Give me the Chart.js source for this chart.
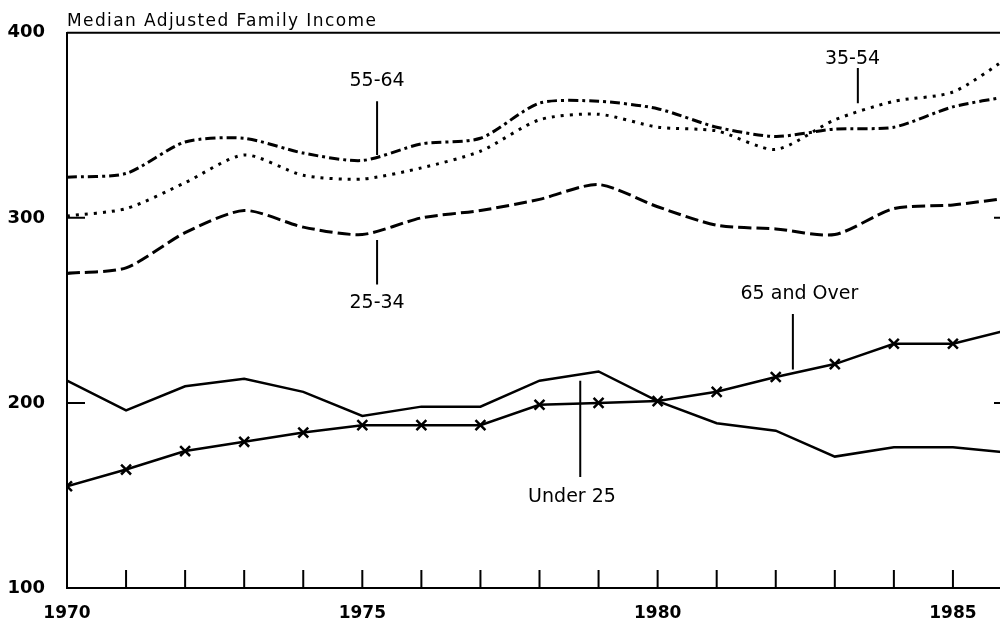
<!DOCTYPE html>
<html>
<head>
<meta charset="utf-8">
<title>Median Adjusted Family Income</title>
<script src="https://cdn.jsdelivr.net/npm/chart.js@4.4.1/dist/chart.umd.min.js"></script>
<style>
  html, body { margin: 0; padding: 0; background: #fff; overflow: hidden; }
  #wrap { width: 1029px; height: 625px; }
</style>
</head>
<body>
<div id="wrap"><canvas id="chart" width="1029" height="625"></canvas></div>
<script>
// Chart data
const years = [1970, 1971, 1972, 1973, 1974, 1975, 1976, 1977, 1978, 1979, 1980, 1981, 1982, 1983, 1984, 1985, 1986];
const under25 = [212, 196, 209, 213, 206, 193, 198, 198, 212, 217, 201, 189, 185, 171, 176, 176, 173];
const age25to34 = [270, 273, 292, 304, 295, 291, 300, 304, 310, 318, 306, 296, 294, 291, 305, 307, 311];
const age35to54 = [301, 305, 319, 334, 323, 321, 327, 336, 353, 356, 349, 347, 337, 353, 363, 368, 388];
const age55to64 = [322, 324, 341, 343, 335, 331, 340, 343, 362, 363, 359, 349, 344, 348, 349, 360, 366];
const age65plus = [155, 164, 174, 179, 184, 188, 188, 188, 199, 200, 201, 206, 214, 221, 232, 232, 240];
const yTicks = [100, 200, 300, 400];
const xLabelYears = [1970, 1975, 1980, 1985];
const title = 'Median Adjusted Family Income';

// series labels with leader lines, in data units
const callouts = [
    { text: '55-64', x: 1975.25, textY: 374, from: 363, to: 334 },
    { text: '25-34', x: 1975.25, textY: 254, from: 288, to: 264 },
    { text: '35-54', x: 1983.39, textX: 1983.3, textY: 386, from: 381, to: 362 },
    { text: '65 and Over', x: 1982.29, textX: 1982.4, textY: 259, from: 248, to: 218 },
    { text: 'Under 25', x: 1978.69, textX: 1978.55, textY: 149, from: 212, to: 160 }
];

function toPoints(values) {
    return years.map((yr, i) => ({ x: yr, y: values[i] }));
}

// inward ticks, top frame line, title and callouts
const extras = {
    id: 'extras',
    afterDraw(chart) {
        const ctx = chart.ctx;
        const xs = chart.scales.x;
        const ys = chart.scales.y;
        const area = chart.chartArea;
        ctx.save();
        ctx.strokeStyle = '#000';
        ctx.lineWidth = 2;
        ctx.beginPath();
        ctx.moveTo(area.left, area.top);
        ctx.lineTo(area.right, area.top);
        years.forEach(yr => {
            if (yr === years[0]) return;
            const px = xs.getPixelForValue(yr);
            ctx.moveTo(px, area.bottom);
            ctx.lineTo(px, area.bottom - 18);
        });
        [200, 300].forEach(v => {
            const py = ys.getPixelForValue(v);
            ctx.moveTo(area.left, py);
            ctx.lineTo(area.left + 18, py);
            ctx.moveTo(area.right, py);
            ctx.lineTo(area.right - 18, py);
        });
        callouts.forEach(c => {
            const px = xs.getPixelForValue(c.x);
            ctx.moveTo(px, ys.getPixelForValue(c.from));
            ctx.lineTo(px, ys.getPixelForValue(c.to));
        });
        ctx.stroke();

        ctx.fillStyle = '#000';
        ctx.textAlign = 'center';
        ctx.textBaseline = 'middle';
        ctx.font = '19px "DejaVu Sans"';
        callouts.forEach(c => {
            ctx.fillText(c.text, xs.getPixelForValue(c.textX || c.x), ys.getPixelForValue(c.textY));
        });

        ctx.textAlign = 'left';
        ctx.textBaseline = 'alphabetic';
        ctx.font = '17px "DejaVu Sans"';
        ctx.letterSpacing = '1.4px';
        ctx.fillText(title, area.left, area.top - 7);
        ctx.restore();
    }
};

const ctx = document.getElementById('chart').getContext('2d');
new Chart(ctx, {
    type: 'line',
    data: {
        datasets: [{
            label: 'Under 25',
            data: toPoints(under25),
            borderColor: '#000',
            borderWidth: 2.5,
            pointRadius: 0,
            tension: 0
        }, {
            label: '25-34',
            data: toPoints(age25to34),
            borderColor: '#000',
            borderWidth: 3,
            borderDash: [13, 5],
            pointRadius: 0,
            tension: 0.25
        }, {
            label: '35-54',
            data: toPoints(age35to54),
            borderColor: '#000',
            borderWidth: 3,
            borderDash: [3, 6],
            pointRadius: 0,
            tension: 0.25
        }, {
            label: '55-64',
            data: toPoints(age55to64),
            borderColor: '#000',
            borderWidth: 3,
            borderDash: [10, 4, 3, 4],
            pointRadius: 0,
            tension: 0.25
        }, {
            label: '65 and Over',
            data: toPoints(age65plus),
            borderColor: '#000',
            borderWidth: 2.5,
            pointStyle: 'crossRot',
            pointRadius: 7,
            pointBorderWidth: 2.5,
            pointBorderColor: '#000',
            tension: 0
        }]
    },
    options: {
        responsive: false,
        animation: false,
        events: [],
        layout: { padding: { left: 0, top: 32, right: 0, bottom: 0 } },
        plugins: {
            legend: { display: false },
            tooltip: { enabled: false }
        },
        scales: {
            x: {
                type: 'linear',
                min: 1970,
                max: 1986,
                grid: { display: false, drawTicks: false },
                border: { display: true, color: '#000', width: 2 },
                afterBuildTicks: (scale) => {
                    scale.ticks = years.map(v => ({ value: v }));
                },
                afterFit: (scale) => { scale.height = 37; },
                ticks: {
                    autoSkip: false,
                    maxRotation: 0,
                    padding: 17,
                    color: '#000',
                    font: { family: 'DejaVu Sans', size: 17, weight: 'bold', lineHeight: 1 },
                    callback: v => xLabelYears.includes(v) ? String(v) : ''
                }
            },
            y: {
                min: 100,
                max: 400,
                grid: { display: false, drawTicks: false },
                border: { display: true, color: '#000', width: 2 },
                afterBuildTicks: (scale) => {
                    scale.ticks = yTicks.map(v => ({ value: v }));
                },
                afterFit: (scale) => { scale.width = 67; },
                ticks: {
                    padding: 22,
                    color: '#000',
                    font: { family: 'DejaVu Sans', size: 18, weight: 'bold' }
                }
            }
        }
    },
    plugins: [extras]
});
</script>
</body>
</html>
